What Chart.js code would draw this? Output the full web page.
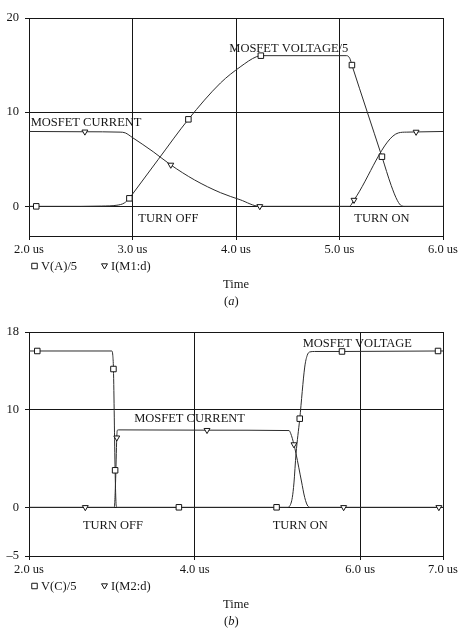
<!DOCTYPE html>
<html>
<head>
<meta charset="utf-8">
<script src="https://cdn.jsdelivr.net/npm/chart.js@4.4.1/dist/chart.umd.min.js"></script>
<style>
  html, body { margin: 0; padding: 0; background: #fff; }
  canvas { position: absolute; left: 0; }
  #chartA { top: 0; }
  #chartB { top: 314px; }
</style>
</head>
<body>
<canvas id="chartA" width="465" height="314"></canvas>
<canvas id="chartB" width="465" height="320"></canvas>
<script>
// ---- (a) M1 switching, time in us ----
const TIME_VA = [2.0, 2.5, 2.7, 2.85, 2.92, 2.97, 3.0, 3.25, 3.54, 3.85, 4.04, 4.2, 4.26, 5.07, 5.1, 5.12, 5.41, 5.5, 5.56, 5.6, 5.63, 6.0];
const VOLT_A  = [0, 0, 0.03, 0.12, 0.35, 0.85, 1.3, 5.0, 9.24, 13.1, 14.8, 15.9, 16.0, 16.0, 15.7, 15.0, 5.27, 2.2, 0.6, 0.05, 0, 0];
const TIME_IA = [2.0, 2.54, 2.88, 2.93, 3.0, 3.2, 3.37, 3.6, 3.85, 4.04, 4.23, 5.095, 5.14, 5.57, 5.65, 5.74, 6.0];
const CURR_A  = [7.95, 7.92, 7.88, 7.8, 7.3, 5.8, 4.4, 2.8, 1.45, 0.7, 0, 0, 0.67, 7.8, 7.88, 7.9, 7.95];
const MARK_T_VA = [2.07, 2.97, 3.54, 4.24, 5.12, 5.41];
const MARK_VA   = [0, 0.85, 9.24, 16.0, 15.0, 5.27];
const MARK_T_IA = [2.54, 3.37, 4.23, 5.14, 5.74];
const MARK_IA   = [7.92, 4.4, 0, 0.67, 7.9];
const X_TICKS_A  = [2, 3, 4, 5, 6];
const X_LABELS_A = ['2.0 us', '3.0 us', '4.0 us', '5.0 us', '6.0 us'];
const Y_TICKS_A  = [0, 10, 20];
const Y_LABELS_A = ['0', '10', '20'];
const LEGEND_A = ['V(A)/5', 'I(M1:d)'];

// ---- (b) M2 switching ----
const TIME_VC = [2.0, 3.0, 3.012, 3.02, 3.04, 3.05, 3.06, 3.5, 5.12, 5.15, 5.18, 5.2, 5.225, 5.27, 5.33, 5.36, 5.39, 5.45, 5.78, 6.94, 7.0];
const VOLT_C  = [16.05, 16.05, 15.6, 14.2, 3.8, 0.6, 0, 0, 0, 0.15, 1.0, 2.5, 5.5, 9.1, 14.4, 15.6, 15.95, 16.0, 16.0, 16.05, 16.05];
const TIME_IC = [2.0, 2.68, 3.03, 3.045, 3.06, 3.066, 3.08, 4.15, 5.14, 5.16, 5.2, 5.225, 5.29, 5.33, 5.37, 5.4, 5.8, 6.95, 7.0];
const CURR_C  = [0, 0, 0, 2.5, 7.15, 7.9, 7.95, 7.92, 7.88, 7.6, 6.45, 5.5, 2.7, 1.0, 0.1, 0, 0, 0, 0];
const MARK_T_VC = [2.1, 3.02, 3.04, 3.81, 4.99, 5.27, 5.78, 6.94];
const MARK_VC   = [16.05, 14.2, 3.8, 0, 0, 9.1, 16.0, 16.05];
const MARK_T_IC = [2.68, 3.06, 4.15, 5.2, 5.8, 6.95];
const MARK_IC   = [0, 7.15, 7.92, 6.45, 0, 0];
const X_TICKS_B  = [2, 4, 6, 7];
const X_LABELS_B = ['2.0 us', '4.0 us', '6.0 us', '7.0 us'];
const Y_TICKS_B  = [-5, 0, 10, 18];
const Y_LABELS_B = ['\u20135', '0', '10', '18'];
const LEGEND_B = ['V(C)/5', 'I(M2:d)'];

const INK = '#161616';
const FONT = '"Liberation Serif", "Times New Roman", serif';

function pts(xs, ys) {
  return xs.map((x, i) => ({ x: x, y: ys[i] }));
}

function trace(label, xs, ys) {
  return {
    label: label,
    data: pts(xs, ys),
    borderColor: '#2c2c2c',
    borderWidth: 1,
    pointRadius: 0,
    cubicInterpolationMode: 'monotone',
    fill: false
  };
}

function marks(label, xs, ys, tri) {
  return {
    label: label,
    data: pts(xs, ys),
    showLine: false,
    pointStyle: tri ? 'triangle' : 'rect',
    pointRotation: tri ? 180 : 0,
    pointRadius: tri ? 3.4 : 3.9,
    pointBackgroundColor: '#fff',
    pointBorderColor: INK,
    pointBorderWidth: 1
  };
}

function axes(xr, xTicks, xLabels, yr, yTicks, yLabels) {
  const grid = { color: INK, lineWidth: 1, tickLength: 4, drawTicks: true };
  const border = { display: true, color: INK, width: 1 };
  const font = { family: FONT, size: 12.5 };
  return {
    x: {
      type: 'linear', min: xr[0], max: xr[1], grid: grid, border: border,
      afterBuildTicks: s => { s.ticks = xTicks.map(v => ({ value: v })); },
      afterFit: s => { s.height = 78; },
      ticks: {
        font: font, color: INK, padding: 2, maxRotation: 0, autoSkip: false,
        callback: v => xLabels[xTicks.indexOf(v)]
      }
    },
    y: {
      type: 'linear', min: yr[0], max: yr[1], grid: grid, border: border,
      afterBuildTicks: s => { s.ticks = yTicks.map(v => ({ value: v })); },
      afterFit: s => { s.width = 29; },
      ticks: {
        font: font, color: INK, padding: 6, autoSkip: false,
        callback: v => yLabels[yTicks.indexOf(v)]
      }
    }
  };
}

// annotations, legend row, axis title and caption
const figText = {
  id: 'figText',
  afterDraw(chart, args, o) {
    const { ctx, chartArea: a, scales: { x, y } } = chart;
    ctx.save();
    ctx.fillStyle = INK;
    ctx.strokeStyle = INK;
    ctx.lineWidth = 1;
    ctx.font = '12.5px ' + FONT;
    ctx.textAlign = 'left';
    ctx.textBaseline = 'alphabetic';
    o.notes.forEach(n => ctx.fillText(n.text, x.getPixelForValue(n.t), y.getPixelForValue(n.v)));

    const base = a.bottom + 34;
    o.keys.forEach((k, i) => {
      const cx = a.left + (i ? 75.5 : 5.5), cy = base - 4;
      ctx.beginPath();
      if (i === 0) {
        ctx.rect(cx - 2.75, cy - 2.75, 5.5, 5.5);
      } else {
        ctx.moveTo(cx - 3, cy - 2.2);
        ctx.lineTo(cx + 3, cy - 2.2);
        ctx.lineTo(cx, cy + 3);
        ctx.closePath();
      }
      ctx.fillStyle = '#fff';
      ctx.fill();
      ctx.stroke();
      ctx.fillStyle = INK;
      ctx.fillText(k, cx + 6.5, base);
    });

    const mid = (a.left + a.right) / 2;
    ctx.textAlign = 'center';
    ctx.fillText('Time', mid, a.bottom + 52);

    ctx.textAlign = 'left';
    let cx = mid - 12;
    const yb = a.bottom + 69;
    ctx.fillText('(', cx, yb);
    cx += ctx.measureText('(').width;
    ctx.font = 'italic 12.5px ' + FONT;
    ctx.fillText(o.tag, cx, yb);
    cx += ctx.measureText(o.tag).width;
    ctx.font = '12.5px ' + FONT;
    ctx.fillText(')', cx, yb);
    ctx.restore();
  }
};

function makeChart(id, datasets, scales, textOpts) {
  return new Chart(document.getElementById(id), {
    type: 'line',
    data: { datasets: datasets },
    options: {
      responsive: false,
      animation: false,
      devicePixelRatio: 1,
      layout: { padding: { left: 0, right: 22, top: 18, bottom: 0 } },
      scales: scales,
      plugins: {
        legend: { display: false },
        tooltip: { enabled: false },
        figText: textOpts
      }
    },
    plugins: [figText]
  });
}

makeChart('chartA', [
  marks(LEGEND_A[0], MARK_T_VA, MARK_VA, false),
  marks(LEGEND_A[1], MARK_T_IA, MARK_IA, true),
  trace(LEGEND_A[0], TIME_VA, VOLT_A),
  trace(LEGEND_A[1], TIME_IA, CURR_A)
], axes([2, 6], X_TICKS_A, X_LABELS_A, [-3.15, 20], Y_TICKS_A, Y_LABELS_A), {
  tag: 'a',
  keys: LEGEND_A,
  notes: [
    { text: 'MOSFET VOLTAGE/5', t: 3.935, v: 16.42 },
    { text: 'MOSFET CURRENT', t: 2.016, v: 8.56 },
    { text: 'TURN OFF', t: 3.056, v: -1.64 },
    { text: 'TURN ON', t: 5.143, v: -1.64 }
  ]
});

makeChart('chartB', [
  marks(LEGEND_B[0], MARK_T_VC, MARK_VC, false),
  marks(LEGEND_B[1], MARK_T_IC, MARK_IC, true),
  trace(LEGEND_B[0], TIME_VC, VOLT_C),
  trace(LEGEND_B[1], TIME_IC, CURR_C)
], axes([2, 7], X_TICKS_B, X_LABELS_B, [-5, 18], Y_TICKS_B, Y_LABELS_B), {
  tag: 'b',
  keys: LEGEND_B,
  notes: [
    { text: 'MOSFET VOLTAGE', t: 5.305, v: 16.46 },
    { text: 'MOSFET CURRENT', t: 3.27, v: 8.8 },
    { text: 'TURN OFF', t: 2.651, v: -2.18 },
    { text: 'TURN ON', t: 4.943, v: -2.18 }
  ]
});
</script>
</body>
</html>
